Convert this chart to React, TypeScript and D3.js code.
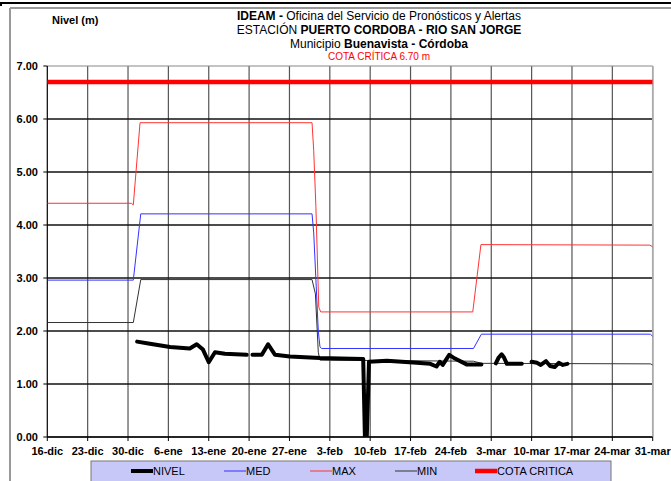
import React from "react";
import * as d3 from "d3";

// ---------- DATA ----------
const xTickLabels = ["16-dic","23-dic","30-dic","6-ene","13-ene","20-ene","27-ene","3-feb","10-feb","17-feb","24-feb","3-mar","10-mar","17-mar","24-mar","31-mar"];
const yTicks = [0, 1, 2, 3, 4, 5, 6, 7];

const nivelDates = [
  "2013-12-31 14:00","2014-01-02 19:00","2014-01-06 07:00","2014-01-09 17:00","2014-01-10 22:00","2014-01-12 00:00",
  "2014-01-13 00:00","2014-01-14 02:00","2014-01-15 19:00","2014-01-19 14:00","2014-01-20 02:00",
  "2014-01-20 14:00","2014-01-22 05:00","2014-01-23 07:00","2014-01-24 12:00","2014-01-27 02:00","2014-02-01 07:00",
  "2014-02-04 19:00","2014-02-08 19:00","2014-02-09 02:00","2014-02-09 10:00","2014-02-09 19:00","2014-02-12 22:00",
  "2014-02-18 02:00","2014-02-20 10:00","2014-02-21 12:00","2014-02-22 02:00","2014-02-22 14:00","2014-02-23 17:00",
  "2014-02-24 17:00","2014-02-26 17:00","2014-03-01 07:00","2014-03-02 12:00",
  "2014-03-03 19:00","2014-03-04 07:00","2014-03-04 19:00","2014-03-05 05:00","2014-03-05 17:00","2014-03-08 07:00","2014-03-09 05:00",
  "2014-03-10 00:00","2014-03-10 22:00","2014-03-11 14:00","2014-03-12 12:00","2014-03-13 05:00","2014-03-14 00:00",
  "2014-03-14 17:00","2014-03-15 10:00","2014-03-16 05:00"
];
const nivelValues = [
  1.80, 1.76, 1.70, 1.67, 1.75, 1.65,
  1.41, 1.60, 1.57, 1.55, null,
  1.55, 1.55, 1.75, 1.55, 1.52, 1.49,
  1.48, 1.47, 0.02, 0.02, 1.42, 1.44,
  1.40, 1.38, 1.33, 1.42, 1.36, 1.55,
  1.48, 1.37, 1.37, null,
  1.39, 1.50, 1.56, 1.50, 1.38, 1.38, null,
  1.42, 1.40, 1.36, 1.43, 1.34, 1.32,
  1.40, 1.36, 1.38
];

const maxDates = ["2013-12-16 00:00","2013-12-30 14:00","2013-12-30 22:00","2014-01-01 02:00","2014-01-30 22:00","2014-01-31 05:00","2014-01-31 14:00","2014-02-01 02:00","2014-02-01 10:00","2014-02-27 19:00","2014-03-01 05:00","2014-03-30 12:00","2014-03-31 00:00"];
const maxValues = [4.41, 4.41, 4.38, 5.93, 5.93, 5.40, 4.35, 2.45, 2.36, 2.36, 3.63, 3.62, 3.59];

const medDates = ["2013-12-16 00:00","2013-12-30 22:00","2014-01-01 05:00","2014-01-30 22:00","2014-01-31 05:00","2014-02-01 00:00","2014-02-01 07:00","2014-02-01 14:00","2014-02-27 22:00","2014-03-01 07:00","2014-03-30 14:00","2014-03-31 00:00"];
const medValues = [2.96, 2.96, 4.21, 4.21, 3.85, 2.00, 1.70, 1.67, 1.67, 1.94, 1.94, 1.90];

const minDates = ["2013-12-16 00:00","2013-12-30 22:00","2014-01-01 05:00","2014-01-30 22:00","2014-01-31 12:00","2014-02-01 00:00","2014-02-01 07:00","2014-02-27 22:00","2014-03-01 07:00","2014-03-30 14:00","2014-03-31 00:00"];
const minValues = [2.16, 2.16, 2.97, 2.97, 2.70, 1.60, 1.45, 1.43, 1.39, 1.38, 1.36];

const cotaDates = ["2013-12-16 00:00", "2014-03-31 00:00"];
const cotaValues = [6.70, 6.70];

const legendItems = [
  { label: "NIVEL", color: "#000000", width: 4 },
  { label: "MED", color: "#3333ff", width: 1 },
  { label: "MAX", color: "#ff3333", width: 1 },
  { label: "MIN", color: "#333333", width: 1 },
  { label: "COTA CRITICA", color: "#ff0000", width: 4.5 },
];

// ---------- LAYOUT ----------
const W = 671, H = 481;
const plot = { left: 47.3, right: 652.7, top: 66, bottom: 437 };
const FONT = "'Liberation Sans', Arial, sans-serif";

const parse = d3.timeParse("%Y-%m-%d %H:%M");

function series(dates: string[], values: (number | null)[]) {
  return dates.map((d, i) => ({ date: parse(d) as Date, value: values[i] }));
}

export default function App() {
  const x = d3.scaleTime()
    .domain([parse("2013-12-16 00:00") as Date, parse("2014-03-31 00:00") as Date])
    .range([plot.left, plot.right]);
  const y = d3.scaleLinear().domain([0, 7]).range([plot.bottom, plot.top]);

  const tickDates = xTickLabels.map((_, i) => d3.timeDay.offset(parse("2013-12-16 00:00") as Date, i * 7));

  const line = d3.line<{ date: Date; value: number | null }>()
    .defined(d => d.value !== null)
    .x(d => x(d.date))
    .y(d => y(d.value as number));

  const legendX = [131, 224, 310, 395, 475];

  return (
    <svg width={W} height={H} style={{ position: "absolute", left: 0, top: 0, background: "#fff" }} fontFamily={FONT}>
      <defs>
        <clipPath id="plotclip">
          <rect x={plot.left} y={plot.top - 3} width={plot.right - plot.left} height={plot.bottom - plot.top + 3} />
        </clipPath>
      </defs>
      {/* outer frames */}
      <line x1={0} x2={W} y1={3} y2={3} stroke="#000" strokeWidth={2} />
      <line x1={1} x2={1} y1={2} y2={6} stroke="#000" strokeWidth={2} />
      <line x1={10} x2={W} y1={8} y2={8} stroke="#999" strokeWidth={2} />
      <line x1={10} x2={10} y1={8} y2={H} stroke="#999" strokeWidth={2} />

      {/* titles */}
      <text x={379} y={20} textAnchor="middle" fontSize={12}>
        <tspan fontWeight="bold">IDEAM -</tspan> Oficina del Servicio de Pronósticos y Alertas
      </text>
      <text x={379} y={34} textAnchor="middle" fontSize={12}>
        ESTACIÓN <tspan fontWeight="bold">PUERTO CORDOBA  - RIO SAN JORGE</tspan>
      </text>
      <text x={379} y={48} textAnchor="middle" fontSize={12}>
        Municipio <tspan fontWeight="bold">Buenavista - Córdoba</tspan>
      </text>
      <text x={379} y={60} textAnchor="middle" fontSize={10} fill="#ff0000">COTA CRÍTICA 6.70 m</text>
      <text x={52} y={24} fontSize={11} fontWeight="bold">Nivel (m)</text>

      {/* grid */}
      {tickDates.map((d, i) => i > 0 ? (
        <line key={"vg" + i} x1={x(d)} x2={x(d)} y1={plot.top} y2={plot.bottom} stroke="#555" strokeWidth={1.2} />
      ) : null)}
      {yTicks.map(v => (
        <line key={"hg" + v} x1={plot.left} x2={plot.right} y1={y(v)} y2={y(v)} stroke={v === 7 ? "#888" : "#111"} strokeWidth={v === 7 ? 1 : 1.5} />
      ))}
      <line x1={plot.right} x2={plot.right} y1={plot.top} y2={plot.bottom} stroke="#aaa" strokeWidth={1.5} />

      {/* axes */}
      <line x1={plot.left} x2={plot.left} y1={plot.top} y2={plot.bottom} stroke="#000" strokeWidth={1.2} />
      <line x1={plot.left} x2={plot.right} y1={plot.bottom} y2={plot.bottom} stroke="#000" strokeWidth={1.2} />
      {yTicks.map(v => (
        <g key={"yt" + v}>
          <line x1={plot.left - 4} x2={plot.left} y1={y(v)} y2={y(v)} stroke="#000" />
          <text x={38} y={y(v) + 4} textAnchor="end" fontSize={11} fontWeight="bold">{v.toFixed(2)}</text>
        </g>
      ))}
      {tickDates.map((d, i) => (
        <g key={"xt" + i}>
          <line x1={x(d)} x2={x(d)} y1={plot.bottom} y2={plot.bottom + 4} stroke="#000" />
          <text x={x(d)} y={455} textAnchor="middle" fontSize={11} fontWeight="bold">{xTickLabels[i]}</text>
        </g>
      ))}

      {/* series */}
      <g clipPath="url(#plotclip)" fill="none">
        <path d={line(series(maxDates, maxValues)) || ""} stroke="#ff3333" strokeWidth={1} />
        <path d={line(series(medDates, medValues)) || ""} stroke="#3333ff" strokeWidth={1} />
        <path d={line(series(minDates, minValues)) || ""} stroke="#333" strokeWidth={1} />
        <path d={line(series(nivelDates, nivelValues)) || ""} stroke="#000" strokeWidth={4} strokeLinejoin="round" strokeLinecap="round" />
        <path d={line(series(cotaDates, cotaValues)) || ""} stroke="#ff0000" strokeWidth={4.5} />
      </g>

      {/* legend */}
      <rect x={91} y={461} width={520} height={24} fill="#c8c8f8" stroke="#777" strokeWidth={1} />
      {legendItems.map((it, i) => (
        <g key={it.label}>
          <line x1={legendX[i]} x2={legendX[i] + 22} y1={471} y2={471} stroke={it.color} strokeWidth={it.width} />
          <text x={legendX[i] + 22} y={475} fontSize={11}>{it.label}</text>
        </g>
      ))}
    </svg>
  );
}
